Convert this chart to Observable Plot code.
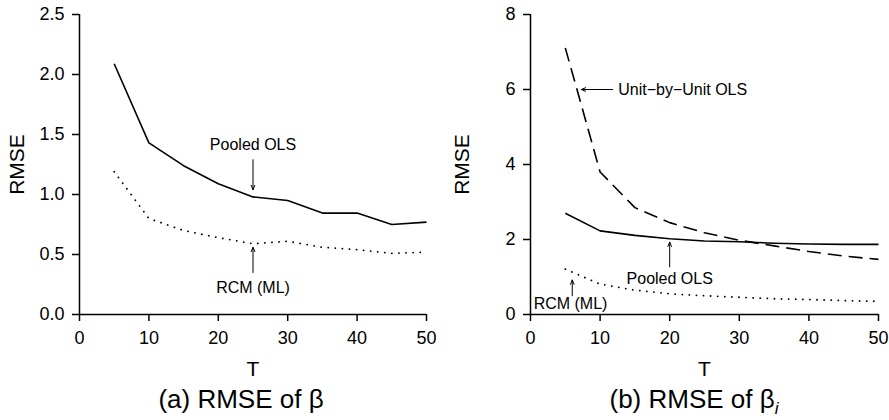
<!DOCTYPE html>
<html>
<head>
<meta charset="utf-8">
<script src="https://cdn.jsdelivr.net/npm/d3@7"></script>
<script src="https://cdn.jsdelivr.net/npm/@observablehq/plot@0.6"></script>
<style>
  html, body { margin: 0; padding: 0; background: #fff; }
  body { width: 889px; height: 420px; overflow: hidden; font-family: "Liberation Sans", Arial, sans-serif; }
  #row { display: flex; flex-direction: row; }
  .panel { display: flex; flex-direction: column; }
  .cap { font-size: 26px; line-height: 28px; color: #000; text-align: center; white-space: nowrap; }
  .cap sub { font-size: 17px; vertical-align: -6px; line-height: 0; }
</style>
</head>
<body>
<div id="row">
  <div class="panel" id="pa" style="width:445px"></div>
  <div class="panel" id="pb" style="width:444px"></div>
</div>
<script>
// ---- data ----
const T = [5, 10, 15, 20, 25, 30, 35, 40, 45, 50];
// panel (a): RMSE of beta
const pooledA = [2.09, 1.43, 1.24, 1.09, 0.98, 0.95, 0.845, 0.845, 0.75, 0.77];
const rcmA    = [1.19, 0.80, 0.70, 0.64, 0.59, 0.61, 0.56, 0.54, 0.51, 0.52];
// panel (b): RMSE of beta_i
const unitB   = [7.11, 3.80, 2.85, 2.45, 2.18, 1.98, 1.83, 1.68, 1.56, 1.47];
const pooledB = [2.70, 2.23, 2.11, 2.02, 1.96, 1.94, 1.90, 1.88, 1.87, 1.87];
const rcmB    = [1.21, 0.81, 0.65, 0.55, 0.50, 0.46, 0.42, 0.40, 0.37, 0.35];

const xTicks = [0, 10, 20, 30, 40, 50];
const yTicksA = [0, 0.5, 1.0, 1.5, 2.0, 2.5];
const yTicksB = [0, 2, 4, 6, 8];

// annotations (data coordinates)
const labelsA = [
  {text: "Pooled OLS", x: 25, y: 1.41, anchor: "middle"},
  {text: "RCM (ML)", x: 25, y: 0.22, anchor: "middle"}
];
const arrowsA = [
  {x1: 25, y1: 1.29, x2: 25, y2: 1.04},
  {x1: 25, y1: 0.35, x2: 25, y2: 0.56}
];
const labelsB = [
  {text: "Unit\u2212by\u2212Unit OLS", x: 12.6, y: 6.0, anchor: "start"},
  {text: "Pooled OLS", x: 20, y: 0.95, anchor: "middle"},
  {text: "RCM (ML)", x: 5.75, y: 0.29, anchor: "middle"}
];
const arrowsB = [
  {x1: 11.8, y1: 6.0, x2: 7.3, y2: 6.0},
  {x1: 20, y1: 1.27, x2: 20, y2: 1.93},
  {x1: 6, y1: 0.5, x2: 6, y2: 0.92}
];

const rows = (ys) => T.map((t, i) => ({T: t, v: ys[i]}));
const FONT = "Liberation Sans, Arial, sans-serif";

function panel({width, marginLeft, marginRight, yDomain, yTicks, yFormat, series, labels, arrows}) {
  return Plot.plot({
    width, height: 385,
    marginLeft, marginRight, marginTop: 14, marginBottom: 71,
    style: {fontFamily: FONT, color: "#000", background: "#fff"},
    x: {domain: [0, 50]},
    y: {domain: yDomain},
    marks: [
      Plot.axisX({ticks: xTicks, tickSize: 7, tickPadding: 10, fontSize: 18, strokeWidth: 1.5, label: null}),
      Plot.axisY({ticks: yTicks, tickFormat: yFormat, tickSize: 7, tickPadding: 8, fontSize: 18, strokeWidth: 1.5, label: null}),
      Plot.text(["T"], {frameAnchor: "bottom", dy: 55, textAnchor: "middle", lineAnchor: "middle", fontSize: 21, fill: "#000"}),
      Plot.text(["RMSE"], {frameAnchor: "left", rotate: -90, dx: -(marginLeft - 17), textAnchor: "middle", lineAnchor: "middle", fontSize: 21, fill: "#000"}),
      Plot.ruleX([0], {stroke: "#000", strokeWidth: 1.5}),
      Plot.ruleY([0], {stroke: "#000", strokeWidth: 1.5}),
      ...series.map(s => Plot.line(rows(s.values), {x: "T", y: "v", stroke: "#000",
        strokeWidth: s.width, strokeDasharray: s.dash, strokeLinecap: s.cap || "butt"})),
      Plot.arrow(arrows, {x1: "x1", y1: "y1", x2: "x2", y2: "y2", stroke: "#000",
        strokeWidth: 1, headLength: 7, headAngle: 45}),
      Plot.text(labels.filter(d => d.anchor === "middle"), {x: "x", y: "y", text: "text", textAnchor: "middle",
        fontSize: 16, fill: "#000"}),
      Plot.text(labels.filter(d => d.anchor === "start"), {x: "x", y: "y", text: "text", textAnchor: "start",
        fontSize: 16, fill: "#000"})
    ]
  });
}

const pa = panel({
  width: 445, marginLeft: 79, marginRight: 19,
  yDomain: [0, 2.5], yTicks: yTicksA, yFormat: d3.format(".1f"),
  series: [
    {values: pooledA, width: 1.6},
    {values: rcmA, width: 1.8, dash: "0.1,7", cap: "round"}
  ],
  labels: labelsA, arrows: arrowsA
});
const pb = panel({
  width: 444, marginLeft: 85, marginRight: 11,
  yDomain: [0, 8], yTicks: yTicksB, yFormat: d3.format("d"),
  series: [
    {values: unitB, width: 1.6, dash: "14,7"},
    {values: pooledB, width: 1.6},
    {values: rcmB, width: 1.8, dash: "0.1,7", cap: "round"}
  ],
  labels: labelsB, arrows: arrowsB
});
document.getElementById("pa").append(pa);
document.getElementById("pb").append(pb);

const capA = document.createElement("div");
capA.className = "cap";
capA.style.paddingLeft = "37px";
capA.innerHTML = "(a) RMSE of \u03B2";
document.getElementById("pa").append(capA);

const capB = document.createElement("div");
capB.className = "cap";
capB.style.paddingLeft = "54px";
capB.innerHTML = "(b) RMSE of \u03B2<sub><i>i</i></sub>";
document.getElementById("pb").append(capB);
</script>
</body>
</html>
